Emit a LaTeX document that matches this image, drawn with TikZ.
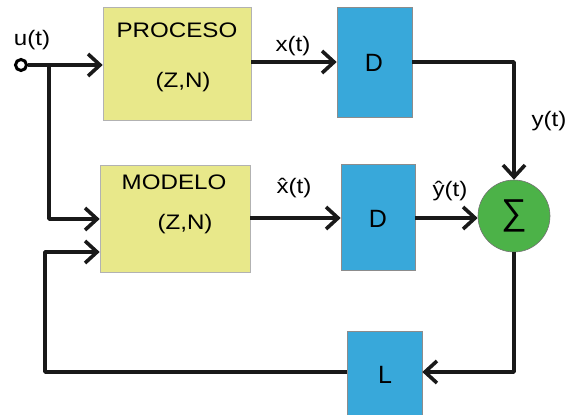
\documentclass[tikz,border=0pt]{standalone}
\usepackage{fontspec}
\setmainfont{Liberation Sans}
\newfontfamily\lab[FakeStretch=1.15]{Liberation Sans}
\usetikzlibrary{arrows.meta}
\definecolor{boxyellow}{RGB}{232,232,138}
\definecolor{boxblue}{RGB}{56,168,218}
\definecolor{sumgreen}{RGB}{76,178,72}
\begin{document}
\begin{tikzpicture}[x=1pt,y=-1pt,
  ybox/.style={draw=black!30,line width=0.6pt,fill=boxyellow,inner sep=0pt},
  bbox/.style={draw=black!45,line width=0.6pt,fill=boxblue,inner sep=0pt},
  wire/.style={line width=3.6pt,line join=round,black!90},
  arr/.style={wire,-{Straight Barb[length=12pt,width=22pt,line width=3.6pt]}},
  txt/.style={inner sep=0pt,font=\lab\fontsize{21}{23}\selectfont},
  big/.style={inner sep=0pt,font=\fontsize{25}{27}\selectfont}]
\useasboundingbox (0,0) rectangle (573,415);
% blocks
\node[ybox,minimum width=148pt,minimum height=113pt] (proc) at (177,63.5) {};
\node[ybox,minimum width=150pt,minimum height=107pt] (mod) at (175,218.5) {};
\node[bbox,minimum width=75pt,minimum height=110pt] (d1) at (374.5,62) {};
\node[bbox,minimum width=74pt,minimum height=106pt] (d2) at (378,217) {};
\node[bbox,minimum width=75pt,minimum height=86pt] (l) at (384.5,374) {};
\node[circle,draw=black!55,line width=0.6pt,fill=sumgreen,minimum size=72pt,inner sep=0pt] (sum) at (514,216) {};
% texts
\node[txt] (tp) at (177,30) {PROCESO};
\node[txt] (tz1) at (183,82) {(Z,N)};
\node[txt] (tm) at (174,182) {MODELO};
\node[txt] (tz2) at (185,224) {(Z,N)};
\node[big] (td1) at (374,63) {D};
\node[big] (td2) at (378,219) {D};
\node[big] (tl) at (385,375) {L};
\node[inner sep=0pt,font=\fontsize{36}{38}\selectfont] (ts) at (514,216) {∑};
\node[txt] (tu) at (32,40) {u(t)};
\node[txt] (tx) at (293,46) {x(t)};
\node[txt] (ty) at (549,121) {y(t)};
\node[txt] (txh) at (294,188) {\^x(t)};
\node[txt] (tyh) at (450,191) {\^y(t)};
% input
\node[circle,draw=black,line width=3pt,minimum size=11pt,inner sep=0pt] (in) at (21,65) {};
\coordinate (br) at (49,65);
\draw[arr] (in) -- (proc.west |- in);
\draw[arr] (br) -- (49,219) -- (mod.west |- 0,219);
\draw[arr] (proc.east |- 0,62) -- (d1.west |- 0,62);
\draw[arr] (d1.east |- 0,62) -- (514,62) -- (sum.north);
\draw[arr] (mod.east |- 0,218) -- (d2.west |- 0,218);
\draw[arr] (d2.east |- 0,218) -- (sum.west |- 0,218);
\draw[arr] (sum.south) -- (514,372) -- (l.east |- 0,372);
\draw[arr] (l.west |- 0,372) -- (45,372) -- (45,252) -- (mod.west |- 0,252);
\end{tikzpicture}
\end{document}
